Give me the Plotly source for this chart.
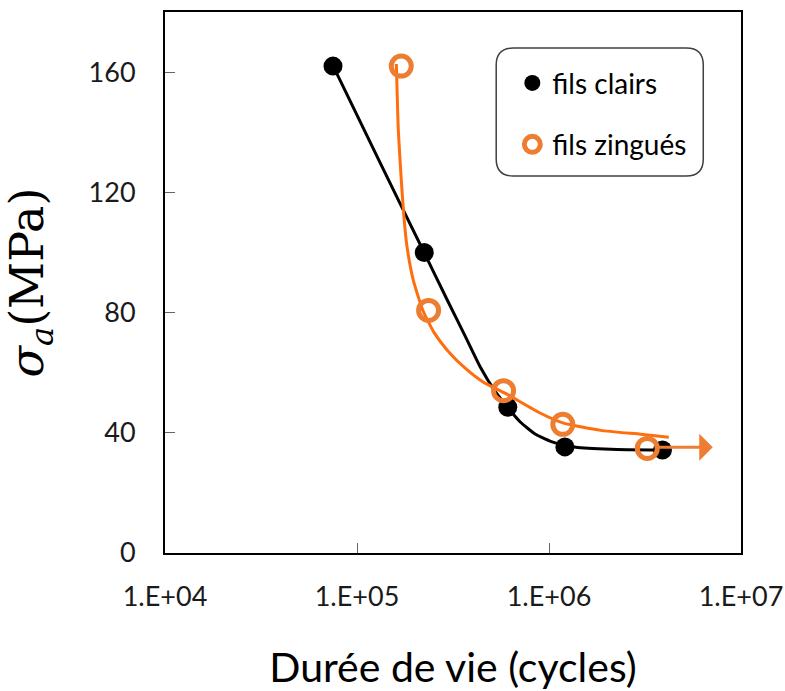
import plotly.graph_objects as go

# ---- data ----
tick_vals = [1e4, 1e5, 1e6, 1e7]
tick_text = ["1.E+04", "1.E+05", "1.E+06", "1.E+07"]
y_ticks = [0, 40, 80, 120, 160]

clairs_x = [7.5e4, 2.24e5, 6.1e5, 1.21e6, 3.9e6]
clairs_y = [162, 100, 48.5, 35.3, 34.3]
zingues_x = [1.70e5, 2.36e5, 5.8e5, 1.18e6, 3.25e6]
zingues_y = [162, 80.7, 54, 42.8, 34.8]

# trend curves
clairs_curve_x = [7.52e4, 1.29e5, 2.24e5, 2.96e5, 3.67e5, 4.40e5, 5.20e5, 6.08e5,
                  7.11e5, 8.51e5, 1.057e6, 1.377e6, 2.10e6, 3.87e6]
clairs_curve_y = [162.0, 131.1, 99.9, 84.0, 72.0, 61.7, 54.1, 48.5,
                  43.5, 39.5, 36.8, 35.2, 34.5, 34.2]
zingues_curve_x = [1.603e5, 1.642e5, 1.702e5, 1.754e5, 1.819e5, 1.967e5, 2.204e5,
                   2.516e5, 2.959e5, 3.672e5, 4.559e5, 5.936e5, 9.04e5, 1.192e6,
                   1.859e6, 3.005e6, 4.207e6]
zingues_curve_y = [162.7, 140.4, 123.8, 112.2, 102.2, 90.6, 80.7,
                   73.4, 67.4, 61.4, 56.8, 53.1, 46.5, 43.2,
                   40.8, 39.5, 38.5]

# arrow (log10 x, y) tail -> head
arrow_tail = (6.55, 35.2)
arrow_head = (6.853, 35.2)

BLACK = "#000000"
ORANGE_M = "#ED7D31"
ORANGE_L = "#FF6D0D"
FONT = "Lato"

fig = go.Figure()

fig.add_trace(go.Scatter(x=clairs_curve_x, y=clairs_curve_y, mode="lines",
                         line=dict(color=BLACK, width=3, shape="spline", smoothing=0.5),
                         showlegend=False, hoverinfo="skip"))
fig.add_trace(go.Scatter(x=zingues_curve_x, y=zingues_curve_y, mode="lines",
                         line=dict(color=ORANGE_L, width=3, shape="spline", smoothing=0.5),
                         showlegend=False, hoverinfo="skip"))

fig.add_trace(go.Scatter(x=clairs_x, y=clairs_y, mode="markers", name="fils clairs",
                         legendgroup="a",
                         marker=dict(color=BLACK, size=19, line=dict(width=0))))
fig.add_trace(go.Scatter(x=zingues_x, y=zingues_y, mode="markers", name="fils zingués",
                         legendgroup="b",
                         marker=dict(color="rgba(255,255,255,0)", size=20,
                                     line=dict(color=ORANGE_M, width=5))))

fig.add_annotation(x=arrow_head[0], y=arrow_head[1], ax=arrow_tail[0], ay=arrow_tail[1],
                   xref="x", yref="y", axref="x", ayref="y", text="", showarrow=True,
                   arrowhead=1, arrowsize=1.5, arrowwidth=3, arrowcolor=ORANGE_M, standoff=0)

# rounded legend box
x0, x1, y0, y1 = 0.575, 0.9345, 0.697, 0.9335
rx, ry = 0.0295, 0.0314
path = (f"M {x0+rx},{y1} L {x1-rx},{y1} Q {x1},{y1} {x1},{y1-ry} "
        f"L {x1},{y0+ry} Q {x1},{y0} {x1-rx},{y0} L {x0+rx},{y0} "
        f"Q {x0},{y0} {x0},{y0+ry} L {x0},{y1-ry} Q {x0},{y1} {x0+rx},{y1} Z")
fig.add_shape(type="path", path=path, xref="paper", yref="paper",
              line=dict(color="#404040", width=1.5), fillcolor="rgba(255,255,255,0)")

fig.update_layout(
    width=785, height=691,
    margin=dict(l=165, r=44, t=12, b=138),
    paper_bgcolor="white", plot_bgcolor="white",
    font=dict(family=FONT, size=27, color="#1a1a1a"),
    showlegend=True,
    legend=dict(x=0.603, y=0.9145, xanchor="left", yanchor="top",
                bgcolor="rgba(0,0,0,0)", borderwidth=0,
                font=dict(family=FONT, size=28, color="#000000"),
                traceorder="grouped", tracegroupgap=22),
    xaxis=dict(type="log", range=[4, 7], tickvals=tick_vals, ticktext=tick_text,
               automargin=False,
               showgrid=False, zeroline=False, showline=True, linecolor=BLACK,
               linewidth=2, mirror=True, ticks="inside", ticklen=10, tickwidth=1,
               tickcolor="#666666", ticklabelstandoff=19,
               tickfont=dict(family=FONT, size=27, color="#1a1a1a"),
               title=dict(text="Durée de vie (cycles)", standoff=46,
                          font=dict(family=FONT, size=41, color="#000000"))),
    yaxis=dict(range=[0, 180], tickvals=y_ticks, automargin=False,
               showgrid=False, zeroline=False, showline=True, linecolor=BLACK,
               linewidth=2, mirror=True, ticks="inside", ticklen=10, tickwidth=1,
               tickcolor="#666666", ticklabelstandoff=22,
               tickfont=dict(family=FONT, size=27, color="#1a1a1a"),
               title=dict(text="<i>σ</i><sub><i>a</i></sub>(MPa)", standoff=41,
                          font=dict(family="DejaVu Serif", size=46, color="#000000"))),
)

fig.write_html("out.html", config={"displayModeBar": False},
               post_script="document.body.style.margin='0';document.body.style.overflow='hidden';")
